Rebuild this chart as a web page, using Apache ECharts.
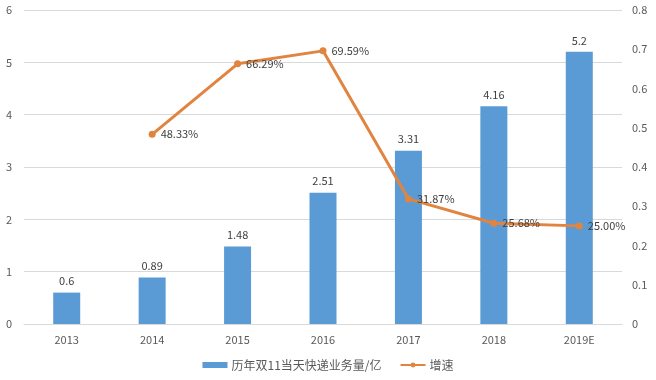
<!DOCTYPE html>
<html><head><meta charset="utf-8">
<script src="https://cdn.jsdelivr.net/npm/echarts@6/dist/echarts.min.js"></script>
<style>html,body{margin:0;padding:0;background:#fff}#c{width:656px;height:380px}</style>
</head><body><div id="c"></div>
<script>
const categories = ['2013','2014','2015','2016','2017','2018','2019E'];
const volume = [0.6, 0.89, 1.48, 2.51, 3.31, 4.16, 5.2];
const growth = [null, 0.4833, 0.6629, 0.6959, 0.3187, 0.2568, 0.25];
const growthLabels = ['', '48.33%', '66.29%', '69.59%', '31.87%', '25.68%', '25.00%'];
const leftTicks = [0,1,2,3,4,5,6];
const rightTicks = [0,0.1,0.2,0.3,0.4,0.5,0.6,0.7,0.8];

const chart = echarts.init(document.getElementById('c'));
const font = 'Microsoft YaHei, "Noto Sans CJK SC", sans-serif';
chart.setOption({
  animation: false,
  textStyle: {fontFamily: font},
  grid: {left: 24, right: 34, top: 10, bottom: 56, containLabel: false},
  legend: {
    bottom: 4, left: 'center', itemGap: 18, itemWidth: 25, itemHeight: 6,
    textStyle: {fontSize: 12, color: '#595959', fontFamily: font, padding: [0,0,0,-1]},
    data: [
      {name: '历年双11当天快递业务量/亿', icon: 'rect'},
      {name: '增速'}
    ]
  },
  xAxis: {
    type: 'category', data: categories,
    axisLine: {lineStyle: {color: '#D9D9D9'}},
    axisTick: {show: false},
    axisLabel: {color: '#595959', fontSize: 11, margin: 10}
  },
  yAxis: [
    {type: 'value', min: 0, max: 6, interval: 1,
     axisLine: {show: false}, axisTick: {show: false},
     axisLabel: {color: '#595959', fontSize: 11, margin: 12},
     splitLine: {lineStyle: {color: '#D9D9D9'}}},
    {type: 'value', min: 0, max: 0.8, interval: 0.1,
     axisLine: {show: false}, axisTick: {show: false},
     axisLabel: {color: '#595959', fontSize: 11, margin: 10,
       formatter: v => v === 0 ? '0' : String(Math.round(v*10)/10)},
     splitLine: {show: false}}
  ],
  series: [
    {name: '历年双11当天快递业务量/亿', type: 'bar', data: volume, barWidth: 27,
     itemStyle: {color: '#5B9BD5'},
     label: {show: true, position: 'top', color: '#404040', fontSize: 11, distance: 6}},
    {name: '增速', type: 'line', yAxisIndex: 1, data: growth,
     symbol: 'circle', symbolSize: 7, connectNulls: false,
     lineStyle: {color: '#E0843F', width: 3},
     itemStyle: {color: '#E0843F'},
     label: {show: true, position: 'right', color: '#404040', fontSize: 11, distance: 5,
       formatter: p => growthLabels[p.dataIndex]}}
  ]
});
</script></body></html>
